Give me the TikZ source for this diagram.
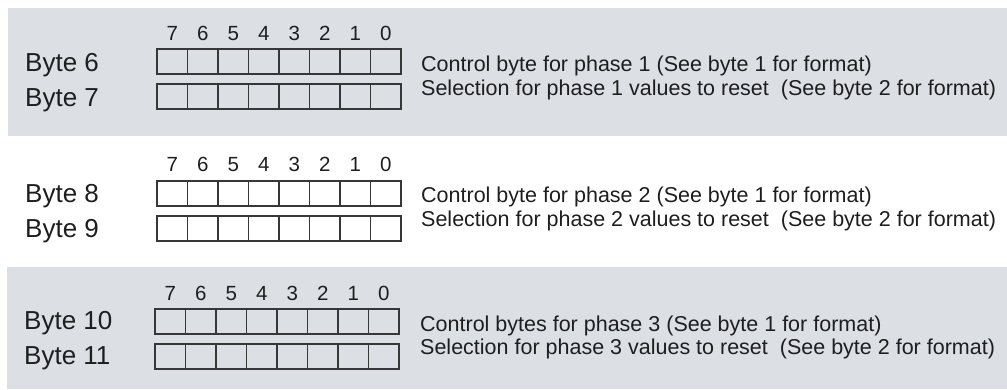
\documentclass[tikz,border=0pt]{standalone}
\usepackage{fontspec}
\setmainfont{Liberation Sans}
\definecolor{panel}{RGB}{220,223,227}
\definecolor{cellline}{RGB}{55,55,55}
\definecolor{txt}{RGB}{30,30,30}
\begin{document}
\begin{tikzpicture}[x=1pt,y=-1pt,
  cell/.style={draw=cellline,line width=1.5pt,minimum width=30.5pt,minimum height=25pt,inner sep=0pt,outer sep=0pt,anchor=north west},
  bytelbl/.style={anchor=base west,inner sep=0pt,font=\fontsize{26}{30}\selectfont,text=txt},
  desc/.style={anchor=base west,inner sep=0pt,font=\fontsize{21.5}{24}\selectfont,text=txt},
  bitnum/.style={anchor=base,inner sep=0pt,font=\fontsize{20.5}{24}\selectfont,text=txt}]
\useasboundingbox (0,0) rectangle (1007,389);
\fill[panel] (8,8) rectangle (1007,136);
\fill[panel] (7,267) rectangle (1007,389);

% Panel 1
\foreach \k in {0,...,7}{
  \pgfmathtruncatemacro\bit{7-\k}
  \node[bitnum] (pa\bit) at (157+30.5*\k+15.25,40) {\bit};
  \node[cell] (bsix\bit) at (157+30.5*\k,49) {};
  \node[cell] (bseven\bit) at (157+30.5*\k,84) {};
}
\node[bytelbl] (l6) at (25,71) {Byte 6};
\node[bytelbl] (l7) at (25,106) {Byte 7};
\node[desc] (d6) at (421,71) {Control byte for phase 1 (See byte 1 for format)};
\node[desc] (d7) at (421,95) {Selection for phase 1 values to reset~ (See byte 2 for format)};

% Panel 2
\foreach \k in {0,...,7}{
  \pgfmathtruncatemacro\bit{7-\k}
  \node[bitnum] (pb\bit) at (157+30.5*\k+15.25,171) {\bit};
  \node[cell] (beight\bit) at (157+30.5*\k,181) {};
  \node[cell] (bnine\bit) at (157+30.5*\k,216) {};
}
\node[bytelbl] (l8) at (25,202) {Byte 8};
\node[bytelbl] (l9) at (25,237) {Byte 9};
\node[desc] (d8) at (421,202) {Control byte for phase 2 (See byte 1 for format)};
\node[desc] (d9) at (421,226) {Selection for phase 2 values to reset~ (See byte 2 for format)};

% Panel 3
\foreach \k in {0,...,7}{
  \pgfmathtruncatemacro\bit{7-\k}
  \node[bitnum] (pc\bit) at (155+30.5*\k+15.25,300) {\bit};
  \node[cell] (bten\bit) at (155+30.5*\k,309) {};
  \node[cell] (beleven\bit) at (155+30.5*\k,344) {};
}
\node[bytelbl] (l10) at (24,329) {Byte 10};
\node[bytelbl] (l11) at (24,364) {Byte 11};
\node[desc] (d10) at (420,331) {Control bytes for phase 3 (See byte 1 for format)};
\node[desc] (d11) at (420,354) {Selection for phase 3 values to reset~ (See byte 2 for format)};
\end{tikzpicture}
\end{document}
